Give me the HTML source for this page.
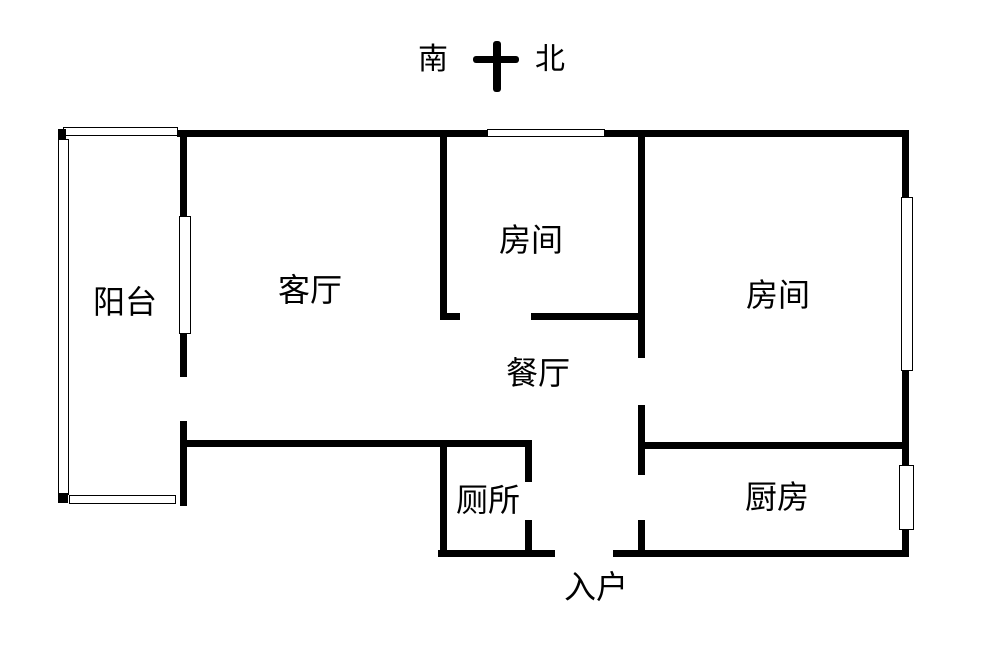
<!DOCTYPE html>
<html><head><meta charset="utf-8"><style>
body{margin:0;background:#fff;}
.w{position:absolute;background:#000;}
.win{position:absolute;background:#fff;border:1.5px solid #000;box-sizing:border-box;}
.t{position:absolute;font-family:"Liberation Sans","Noto Sans CJK SC",sans-serif;font-size:32px;color:#000;line-height:1;white-space:nowrap;transform:translate(-50%,-50%);}
</style></head><body>
<div style="position:relative;width:1000px;height:660px;overflow:hidden;">
<!-- compass -->
<div class="t" style="left:433px;top:60px;font-size:30px;">南</div>
<div class="t" style="left:550px;top:60px;font-size:30px;">北</div>
<div class="w" style="left:473px;top:56px;width:46px;height:7px;border-radius:3px;"></div>
<div class="w" style="left:493px;top:41px;width:8px;height:51px;border-radius:3px;"></div>

<!-- top wall -->
<div class="w" style="left:177px;top:130px;width:732px;height:7px;"></div>
<div class="win" style="left:487px;top:129px;width:118px;height:8px;"></div>
<!-- balcony -->
<div class="win" style="left:63px;top:127px;width:115px;height:9px;"></div>
<div class="win" style="left:58px;top:139px;width:11px;height:356px;"></div>
<div class="win" style="left:69px;top:495px;width:107px;height:9px;"></div>
<div class="w" style="left:58px;top:129px;width:8px;height:10px;"></div>
<div class="w" style="left:58px;top:493px;width:10px;height:10px;"></div>
<!-- living left wall -->
<div class="w" style="left:180px;top:130px;width:7px;height:247px;"></div>
<div class="win" style="left:179px;top:216px;width:12px;height:118px;"></div>
<div class="w" style="left:180px;top:421px;width:7px;height:85px;"></div>
<!-- horizontal wall lower -->
<div class="w" style="left:187px;top:440px;width:345px;height:7px;"></div>
<!-- room1 -->
<div class="w" style="left:440px;top:133px;width:7px;height:187px;"></div>
<div class="w" style="left:440px;top:313px;width:20px;height:7px;"></div>
<div class="w" style="left:531px;top:313px;width:114px;height:7px;"></div>
<!-- divider -->
<div class="w" style="left:638px;top:130px;width:7px;height:228px;"></div>
<div class="w" style="left:638px;top:405px;width:7px;height:70px;"></div>
<div class="w" style="left:638px;top:520px;width:7px;height:37px;"></div>
<!-- right wall -->
<div class="w" style="left:902px;top:130px;width:7px;height:427px;"></div>
<div class="win" style="left:901px;top:197px;width:12px;height:174px;"></div>
<div class="win" style="left:899px;top:465px;width:15px;height:65px;"></div>
<!-- kitchen top -->
<div class="w" style="left:645px;top:442px;width:260px;height:7px;"></div>
<!-- bottom walls -->
<div class="w" style="left:613px;top:550px;width:296px;height:7px;"></div>
<div class="w" style="left:438px;top:550px;width:117px;height:7px;"></div>
<!-- toilet -->
<div class="w" style="left:440px;top:440px;width:7px;height:117px;"></div>
<div class="w" style="left:525px;top:440px;width:7px;height:42px;"></div>
<div class="w" style="left:525px;top:520px;width:7px;height:37px;"></div>

<div class="t" style="left:125px;top:302px;">阳台</div>
<div class="t" style="left:310px;top:290px;">客厅</div>
<div class="t" style="left:531px;top:240px;">房间</div>
<div class="t" style="left:778px;top:295px;">房间</div>
<div class="t" style="left:538px;top:373px;">餐厅</div>
<div class="t" style="left:488px;top:500px;">厕所</div>
<div class="t" style="left:777px;top:497px;">厨房</div>
<div class="t" style="left:596px;top:587px;">入户</div>
</div>
</body></html>
